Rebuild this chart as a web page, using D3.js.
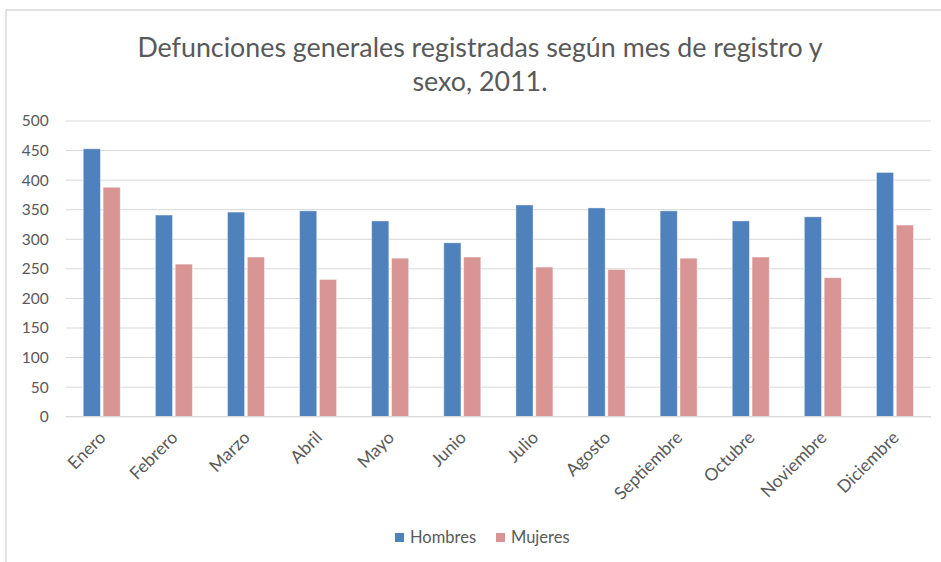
<!DOCTYPE html>
<html><head><meta charset="utf-8">
<script src="https://cdn.jsdelivr.net/npm/d3@7"></script>
<style>body{margin:0;background:#fff}svg{display:block}text{font-family:Lato,"Open Sans",sans-serif}</style>
</head><body><svg id="c" width="941" height="562"></svg>
<script>
const months = ["Enero","Febrero","Marzo","Abril","Mayo","Junio","Julio","Agosto","Septiembre","Octubre","Noviembre","Diciembre"];
const hombres = [453,341,346,348,331,294,358,353,348,331,338,413];
const mujeres = [388,258,270,232,268,270,253,249,268,270,235,324];
const seriesNames = ["Hombres","Mujeres"];
const seriesColors = ["#4f81bd","#d99594"];
const yTicks = [0,50,100,150,200,250,300,350,400,450,500];
const titleLines = ["Defunciones generales registradas según mes de registro y","sexo, 2011."];

const svg = d3.select("#c");
const W=941,H=562;
svg.append("rect").attr("x",6).attr("y",10).attr("width",W).attr("height",H).attr("fill","#fff").attr("stroke","#d9d9d9").attr("stroke-width",1.5);

const L=65.7,R=931,T=121,B=416.7;
const x = d3.scaleBand().domain(months).range([L,R]).paddingInner(0).paddingOuter(0);
const x1 = d3.scaleBand().domain(seriesNames).range([x.bandwidth()/2-18.5, x.bandwidth()/2+18.5]).paddingInner(5/37).paddingOuter(0);
const y = d3.scaleLinear().domain([0,500]).range([B,T]);

// gridlines
svg.append("g").selectAll("line").data(yTicks).join("line")
  .attr("x1",L).attr("x2",R).attr("y1",d=>y(d)).attr("y2",d=>y(d))
  .attr("stroke","#d9d9d9").attr("stroke-width",1);

// y axis labels
const ya = svg.append("g").attr("transform",`translate(${L},0)`)
  .call(d3.axisLeft(y).tickValues(yTicks).tickSize(0).tickPadding(17));
ya.select(".domain").remove();
ya.selectAll("text").attr("fill","#595959").style("font-size","15.5px").style("font-family","Lato,'Open Sans',sans-serif");

// bars
const data = months.map((m,i)=>({m, vals:[hombres[i],mujeres[i]]}));
const groups = svg.append("g").selectAll("g").data(data).join("g").attr("transform",d=>`translate(${x(d.m)},0)`);
groups.selectAll("rect").data(d=>d.vals.map((v,j)=>({v,s:seriesNames[j],c:seriesColors[j]}))).join("rect")
  .attr("x",d=>x1(d.s)).attr("width",x1.bandwidth())
  .attr("y",d=>y(d.v)).attr("height",d=>y(0)-y(d.v))
  .attr("fill",d=>d.c).attr("stroke","#fff").attr("stroke-opacity",0.5).attr("stroke-width",0.8);

// x axis line
svg.append("line").attr("x1",L).attr("x2",R).attr("y1",B).attr("y2",B).attr("stroke","#d9d9d9").attr("stroke-width",1.2);

// x labels
const xa = svg.append("g").attr("transform",`translate(0,${B})`).call(d3.axisBottom(x).tickSize(0).tickPadding(0));
xa.select(".domain").remove();
xa.selectAll("text").attr("fill","#595959").style("font-size","17.5px")
  .attr("text-anchor","end").attr("dy",null).attr("y",0)
  .attr("transform","translate(5,22) rotate(-45)");

// title
svg.append("g").selectAll("text").data(titleLines).join("text")
  .attr("x",480).attr("y",(d,i)=>57+i*34).attr("text-anchor","middle")
  .attr("fill","#595959").style("font-size","26.8px").text(d=>d);

// legend
const lg = svg.append("g").selectAll("g").data(seriesNames).join("g")
  .attr("transform",(d,i)=>`translate(${i?496:395},533)`);
lg.append("rect").attr("width",9).attr("height",9).attr("fill",(d,i)=>seriesColors[i]);
lg.append("text").attr("x",15).attr("y",10).attr("fill","#595959").style("font-size","16.5px").text(d=>d);
</script></body></html>
